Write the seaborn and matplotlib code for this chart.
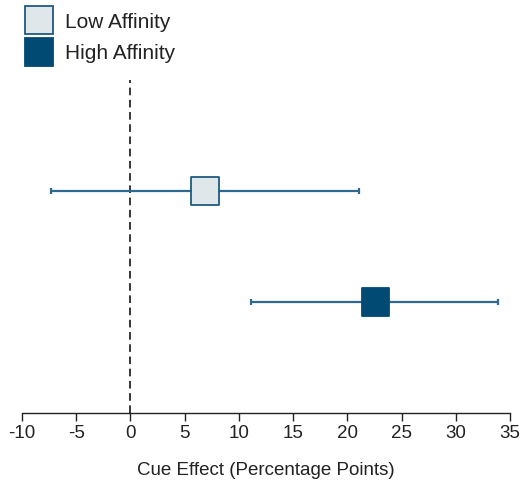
import matplotlib
matplotlib.use("Agg")
import matplotlib.pyplot as plt
from matplotlib.lines import Line2D
import seaborn as sns
import pandas as pd

# Data
groups = ["Low Affinity", "High Affinity"]
estimates = [6.9, 22.6]
ci_low = [-7.3, 11.1]
ci_high = [21.1, 33.9]
ypos = [2, 1]
fill_colors = ["#e0e7eb", "#004a73"]
edge_colors = ["#1f5a80", "#004a73"]
bar_color = "#2e6a8f"
xticks = [-10, -5, 0, 5, 10, 15, 20, 25, 30, 35]

df = pd.DataFrame({"group": groups, "est": estimates, "lo": ci_low, "hi": ci_high, "y": ypos})

sns.set_style("white")
plt.rcParams["font.family"] = ["Liberation Sans", "DejaVu Sans"]

fig = plt.figure(figsize=(5.2, 4.84), dpi=100)
ax = fig.add_axes([0.042, 0.147, 0.939, 0.688])

# zero reference line
ax.axvline(0, color="black", linestyle=(0, (5, 3)), linewidth=1.1, zorder=1)

# confidence intervals
ax.errorbar(df["est"], df["y"],
            xerr=[df["est"] - df["lo"], df["hi"] - df["est"]],
            fmt="none", ecolor=bar_color, elinewidth=1.6, capsize=2.5,
            capthick=1.6, zorder=2)

# point estimates
sns.scatterplot(data=df, x="est", y="y", hue="group", palette=fill_colors,
                marker="s", s=400, edgecolor=edge_colors, linewidth=1.3,
                legend=False, ax=ax, zorder=3)

ax.set_xlim(-10, 35)
ax.set_ylim(0, 3)
ax.set_xticks(xticks)
ax.set_xticklabels([str(t) for t in xticks], fontsize=13.5, color="#222222")
ax.set_yticks([])
ax.set_ylabel("")
ax.set_xlabel("Cue Effect (Percentage Points)", fontsize=13.5, color="#222222", labelpad=14)
ax.tick_params(axis="x", direction="out", length=6, width=1, color="#222222", pad=3, bottom=True)
for side in ["left", "right", "top"]:
    ax.spines[side].set_visible(False)
ax.spines["bottom"].set_color("#222222")
ax.spines["bottom"].set_linewidth(1)

handles = [Line2D([], [], marker="s", linestyle="none", markersize=20,
                  markerfacecolor=fill_colors[i], markeredgecolor=edge_colors[i],
                  markeredgewidth=1.3) for i in range(2)]
fig.legend(handles, groups, loc="upper left", bbox_to_anchor=(0.023, 1.0),
           frameon=False, fontsize=15, handletextpad=0.55, labelspacing=0.6,
           handlelength=1.4, borderpad=0.3, borderaxespad=0.3, labelcolor="#222222")

fig.savefig("out.png", dpi=100)
